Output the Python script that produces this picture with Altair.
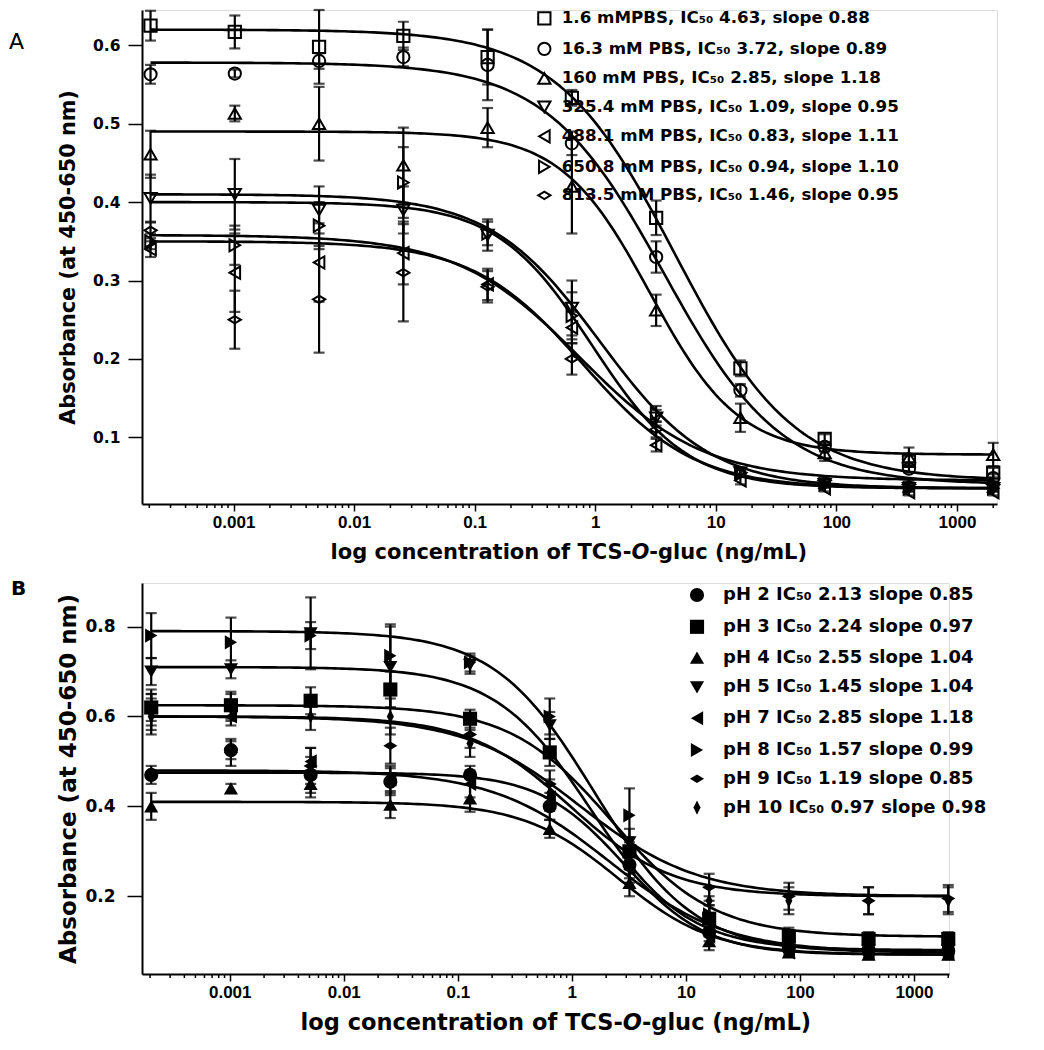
import altair as alt
import pandas as pd

FONT = "DejaVu Sans"
NARROW = "Liberation Sans Narrow, Liberation Sans"

# ---------------- shared x values (5-fold dilution series, ng/mL) ----------------
conc = [0.0002048, 0.001024, 0.00512, 0.0256, 0.128, 0.64, 3.2, 16, 80, 400, 2000]
major_ticks = [0.001, 0.01, 0.1, 1, 10, 100, 1000]
minor_ticks = [0.0002, 0.0003, 0.0004, 0.0005, 0.0006, 0.0007, 0.0008, 0.0009,
               0.002, 0.003, 0.004, 0.005, 0.006, 0.007, 0.008, 0.009,
               0.02, 0.03, 0.04, 0.05, 0.06, 0.07, 0.08, 0.09,
               0.2, 0.3, 0.4, 0.5, 0.6, 0.7, 0.8, 0.9,
               2, 3, 4, 5, 6, 7, 8, 9,
               20, 30, 40, 50, 60, 70, 80, 90,
               200, 300, 400, 500, 600, 700, 800, 900, 2000]
title_parts = ["log concentration of TCS-", "O", "-gluc (ng/mL)"]

# ---------------- panel A : PBS concentration ----------------
a_series = ["1.6 mMPBS, IC\u2085\u2080 4.63, slope 0.88",
            "16.3 mM PBS, IC\u2085\u2080 3.72, slope 0.89",
            "160 mM PBS, IC\u2085\u2080 2.85, slope 1.18",
            "325.4 mM PBS, IC\u2085\u2080 1.09, slope 0.95",
            "488.1 mM PBS, IC\u2085\u2080 0.83, slope 1.11",
            "650.8 mM PBS, IC\u2085\u2080 0.94, slope 1.10",
            "813.5 mM PBS, IC\u2085\u2080 1.46, slope 0.95"]
a_shapes = ["square", "circle", "triangle-up", "triangle-down",
            "triangle-left", "triangle-right", "M-1,0L0,-0.6L1,0L0,0.6Z"]
# fitted curve parameters
a_top = [0.620, 0.578, 0.490, 0.410, 0.350, 0.400, 0.358]
a_bottom = [0.045, 0.040, 0.078, 0.035, 0.035, 0.035, 0.045]
a_mid = [4.63, 3.72, 2.85, 1.09, 0.80, 0.94, 0.75]
a_slope = [0.88, 0.89, 1.18, 0.95, 0.95, 1.10, 0.85]

a_sq = [0.625, 0.617, 0.598, 0.612, 0.585, 0.533, 0.380, 0.188, 0.098, 0.070, 0.055]
a_sq_err = [0.019, 0.021, 0.047, 0.018, 0.035, 0.010, 0.022, 0.010, 0.006, 0.006, 0.006]
a_ci = [0.563, 0.564, 0.580, 0.585, 0.575, 0.475, 0.330, 0.160, 0.088, 0.060, 0.048]
a_ci_err = [0.012, 0.005, 0.010, 0.012, 0.045, 0.015, 0.020, 0.008, 0.006, 0.005, 0.005]
a_tu = [0.461, 0.513, 0.500, 0.447, 0.495, 0.420, 0.262, 0.125, 0.080, 0.075, 0.078]
a_tu_err = [0.030, 0.010, 0.047, 0.048, 0.025, 0.060, 0.020, 0.018, 0.010, 0.012, 0.015]
a_td = [0.405, 0.410, 0.390, 0.390, 0.358, 0.265, 0.125, 0.055, 0.040, 0.035, 0.035]
a_td_err = [0.030, 0.045, 0.030, 0.030, 0.020, 0.035, 0.010, 0.005, 0.004, 0.004, 0.004]
a_tl = [0.340, 0.310, 0.323, 0.335, 0.295, 0.240, 0.090, 0.045, 0.035, 0.030, 0.030]
a_tl_err = [0.010, 0.050, 0.050, 0.040, 0.020, 0.020, 0.008, 0.005, 0.004, 0.004, 0.004]
a_tr = [0.350, 0.345, 0.370, 0.425, 0.360, 0.255, 0.130, 0.055, 0.040, 0.035, 0.035]
a_tr_err = [0.010, 0.025, 0.030, 0.045, 0.015, 0.030, 0.010, 0.005, 0.004, 0.004, 0.004]
a_di = [0.364, 0.250, 0.276, 0.310, 0.292, 0.200, 0.110, 0.055, 0.045, 0.040, 0.040]
a_di_err = [0.010, 0.037, 0.068, 0.062, 0.020, 0.020, 0.010, 0.005, 0.004, 0.004, 0.004]
a_vals = [a_sq, a_ci, a_tu, a_td, a_tl, a_tr, a_di]
a_errs = [a_sq_err, a_ci_err, a_tu_err, a_td_err, a_tl_err, a_tr_err, a_di_err]

# ---------------- panel B : pH ----------------
b_series = ["pH 2 IC\u2085\u2080 2.13 slope 0.85",
            "pH 3 IC\u2085\u2080 2.24 slope 0.97",
            "pH 4 IC\u2085\u2080 2.55 slope 1.04",
            "pH 5 IC\u2085\u2080 1.45 slope 1.04",
            "pH 7 IC\u2085\u2080 2.85 slope 1.18",
            "pH 8 IC\u2085\u2080 1.57 slope 0.99",
            "pH 9 IC\u2085\u2080 1.19 slope 0.85",
            "pH 10 IC\u2085\u2080 0.97 slope 0.98"]
b_shapes = ["circle", "square", "triangle-up", "triangle-down",
            "triangle-left", "triangle-right", "M-1,0L0,-0.6L1,0L0,0.6Z",
            "M-0.5,0L0,-1L0.5,0L0,1Z"]
b_top = [0.480, 0.625, 0.410, 0.710, 0.475, 0.790, 0.600, 0.600]
b_bottom = [0.075, 0.110, 0.070, 0.080, 0.070, 0.075, 0.200, 0.200]
b_mid = [2.13, 2.24, 2.55, 1.45, 2.85, 1.57, 1.19, 0.97]
b_slope = [0.85, 0.97, 1.04, 1.04, 1.18, 0.99, 0.85, 0.98]

b_p2 = [0.470, 0.525, 0.470, 0.455, 0.470, 0.400, 0.270, 0.120, 0.085, 0.080, 0.078]
b_p2_err = [0.020, 0.020, 0.040, 0.030, 0.020, 0.030, 0.030, 0.020, 0.010, 0.010, 0.010]
b_p3 = [0.620, 0.625, 0.635, 0.660, 0.595, 0.520, 0.300, 0.150, 0.110, 0.105, 0.105]
b_p3_err = [0.040, 0.030, 0.030, 0.040, 0.020, 0.030, 0.030, 0.030, 0.020, 0.015, 0.015]
b_p4 = [0.400, 0.440, 0.450, 0.404, 0.418, 0.350, 0.230, 0.100, 0.075, 0.070, 0.070]
b_p4_err = [0.030, 0.010, 0.030, 0.030, 0.030, 0.020, 0.030, 0.020, 0.010, 0.010, 0.010]
b_p5 = [0.700, 0.705, 0.785, 0.710, 0.715, 0.580, 0.320, 0.150, 0.090, 0.080, 0.080]
b_p5_err = [0.030, 0.020, 0.080, 0.090, 0.020, 0.030, 0.030, 0.030, 0.015, 0.010, 0.010]
b_p7 = [0.620, 0.600, 0.500, 0.460, 0.450, 0.420, 0.260, 0.110, 0.075, 0.075, 0.075]
b_p7_err = [0.030, 0.020, 0.030, 0.030, 0.030, 0.030, 0.030, 0.020, 0.010, 0.010, 0.010]
b_p8 = [0.780, 0.765, 0.780, 0.735, 0.720, 0.600, 0.380, 0.160, 0.090, 0.085, 0.085]
b_p8_err = [0.050, 0.055, 0.030, 0.070, 0.020, 0.040, 0.060, 0.040, 0.020, 0.015, 0.015]
b_p9 = [0.610, 0.520, 0.490, 0.535, 0.560, 0.450, 0.300, 0.220, 0.200, 0.190, 0.195]
b_p9_err = [0.040, 0.030, 0.040, 0.040, 0.030, 0.030, 0.030, 0.030, 0.030, 0.030, 0.030]
b_p10 = [0.600, 0.620, 0.600, 0.600, 0.540, 0.430, 0.280, 0.190, 0.190, 0.190, 0.190]
b_p10_err = [0.040, 0.030, 0.030, 0.040, 0.030, 0.030, 0.030, 0.030, 0.030, 0.030, 0.030]
b_vals = [b_p2, b_p3, b_p4, b_p5, b_p7, b_p8, b_p9, b_p10]
b_errs = [b_p2_err, b_p3_err, b_p4_err, b_p5_err, b_p7_err, b_p8_err, b_p9_err, b_p10_err]


def points_table(series, vals, errs):
    rows = []
    for s, v, e in zip(series, vals, errs):
        for c, y, err in zip(conc, v, e):
            rows.append({"series": s, "conc": c, "val": y, "lo": y - err, "hi": y + err})
    return pd.DataFrame(rows)


def params_table(series, top, bottom, mid, slope):
    return pd.DataFrame({"series": series, "top": top, "bottom": bottom,
                         "mid": mid, "slope": slope})


def text_layer(txt, x, y, size, weight="bold", style="normal", align="left", font=FONT):
    return alt.Chart(pd.DataFrame({"t": [txt]})).mark_text(
        font=font, fontSize=size, fontWeight=weight, fontStyle=style, align=align,
        baseline="middle", color="black"
    ).encode(text="t:N", x=alt.value(x), y=alt.value(y))


def panel(cfg):
    w, h = cfg["w"], cfg["h"]
    series = cfg["series"]
    pts = points_table(series, cfg["vals"], cfg["errs"])
    par = params_table(series, cfg["top"], cfg["bottom"], cfg["mid"], cfg["slope"])

    xaxis = alt.Axis(values=major_ticks, format="~g", title=None, grid=False,
                     labelFont=NARROW, labelFontSize=cfg["xtick_fs"], labelFontWeight="bold",
                     labelColor="black", tickColor="black", tickSize=7, tickWidth=1.5,
                     domainColor="black", domainWidth=2, labelPadding=3,
                     labelFlush=False, labelOverlap=False)
    yaxis = alt.Axis(values=cfg["yticks"], format=".1f", title="Absorbance (at 450-650 nm)",
                     grid=False, labelFont=FONT, labelFontSize=cfg["ytick_fs"],
                     labelFontWeight="bold", labelColor="black", tickColor="black",
                     tickSize=cfg["ytick_len"], tickWidth=1.5, domainColor="black",
                     domainWidth=2, labelPadding=cfg["ylab_pad"], titleFont=FONT,
                     titleFontSize=cfg["ytitle_fs"], titleFontWeight="bold",
                     titleColor="black", titlePadding=cfg["ytitle_pad"])
    xs = alt.Scale(type="log", domain=cfg["xdom"], nice=False)
    ys = alt.Scale(domain=cfg["ydom"], nice=False, zero=False)
    X = lambda f: alt.X(f, scale=xs, axis=xaxis)
    Y = lambda f: alt.Y(f, scale=ys, axis=yaxis)

    curves = alt.Chart(par).transform_calculate(
        i="sequence(0, 201)"
    ).transform_flatten(["i"]).transform_calculate(
        conc="pow(10, log(0.0002048)/LN10 + datum.i * (log(2000) - log(0.0002048)) / LN10 / 200)"
    ).transform_calculate(
        val="datum.bottom + (datum.top - datum.bottom) / (1 + pow(datum.conc / datum.mid, datum.slope))"
    ).mark_line(color="black", strokeWidth=2.6).encode(
        x=X("conc:Q"), y=Y("val:Q"), detail="series:N", order="i:Q",
    )

    bars = alt.Chart(pts).mark_errorbar(
        ticks={"size": 11, "thickness": 2.2, "color": "black"}, thickness=2.2, color="black"
    ).encode(x=X("conc:Q"), y=Y("lo:Q"), y2="hi:Q")

    lg = cfg["legend"]
    leg = alt.Legend(title=None, orient="none", legendX=lg["x"], legendY=lg["y"],
                     labelFont=FONT, labelFontSize=lg["fs"], labelFontWeight="bold",
                     labelColor="black", labelLimit=0, symbolSize=lg["sym"],
                     symbolStrokeWidth=2, symbolStrokeColor="black",
                     symbolFillColor="black" if cfg["filled"] else "transparent",
                     rowPadding=lg["row"], labelOffset=lg["off"], padding=0)
    points = alt.Chart(pts).mark_point(
        filled=cfg["filled"], color="black", strokeWidth=2, size=cfg["sym"], opacity=1
    ).encode(
        x=X("conc:Q"), y=Y("val:Q"),
        shape=alt.Shape("series:N", scale=alt.Scale(domain=series, range=cfg["shapes"]),
                        legend=leg, sort=series),
    )

    minor = alt.Chart(pd.DataFrame({"conc": minor_ticks})).transform_filter(
        f"datum.conc >= {cfg['xdom'][0]} && datum.conc <= {cfg['xdom'][1]}"
    ).mark_rule(color="black", strokeWidth=1.5).encode(
        x=X("conc:Q"), y=alt.value(h), y2=alt.value(h + 4),
    )

    fs = cfg["xtitle_fs"]
    x0 = cfg["xtitle_x"] + 14.304 * fs
    ty = h + 49
    p1, p2, p3 = title_parts
    texts = [
        text_layer(p1, x0, ty, fs, align="right"),
        text_layer(p2, x0, ty, fs, style="italic"),
        text_layer(p3, x0 + 0.85 * fs, ty, fs),
        text_layer(cfg["label"], cfg["label_x"], cfg["label_y"], cfg["label_fs"],
                   weight=cfg["label_w"]),
    ]
    return alt.layer(minor, curves, bars, points, *texts).properties(width=w, height=h)


chart_a = panel(dict(
    label="A", label_x=-133, label_y=32, label_fs=22, label_w="normal",
    series=a_series, shapes=a_shapes, vals=a_vals, errs=a_errs,
    top=a_top, bottom=a_bottom, mid=a_mid, slope=a_slope,
    w=855, h=494, xdom=[0.000174, 2150], ydom=[0.015, 0.645],
    yticks=[0.1, 0.2, 0.3, 0.4, 0.5, 0.6], filled=False, sym=150,
    legend={"x": 394, "y": 0, "fs": 16.7, "sym": 150, "row": 9.5, "off": 9},
    xtick_fs=17, ytick_fs=15.5, ytick_len=14, ylab_pad=8, ytitle_fs=20.8, ytitle_pad=14,
    xtitle_fs=21, xtitle_x=189,
))

chart_b = panel(dict(
    label="B", label_x=-131, label_y=6, label_fs=20, label_w="bold",
    series=b_series, shapes=b_shapes, vals=b_vals, errs=b_errs,
    top=b_top, bottom=b_bottom, mid=b_mid, slope=b_slope,
    w=807, h=391, xdom=[0.00017, 2030], ydom=[0.027, 0.897],
    yticks=[0.2, 0.4, 0.6, 0.8], filled=True, sym=200,
    legend={"x": 546, "y": 3, "fs": 18, "sym": 200, "row": 7.8, "off": 17},
    xtick_fs=17, ytick_fs=17, ytick_len=15, ylab_pad=12, ytitle_fs=23, ytitle_pad=4,
    xtitle_fs=22.5, xtitle_x=159,
))

chart = alt.vconcat(chart_a, chart_b, spacing=14).resolve_scale(
    shape="independent", x="independent", y="independent"
).resolve_legend(shape="independent").properties(
    padding={"left": 0, "top": 0, "right": 5, "bottom": 5}
).configure_view(stroke=None).configure(background="white")

chart.save("out.html", embed_options={"renderer": "svg", "actions": False})
